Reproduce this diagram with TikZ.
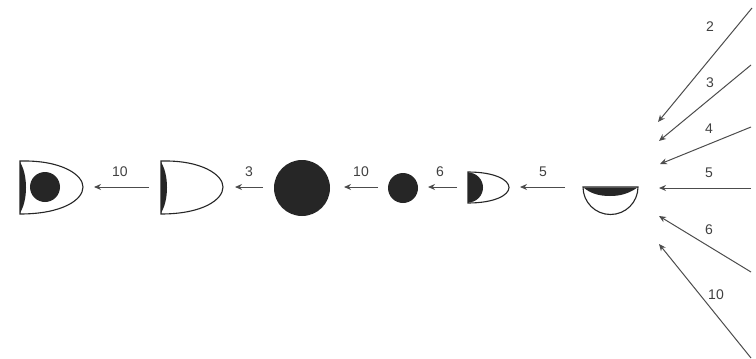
\documentclass[tikz,border=0pt]{standalone}
\usepackage{fontspec}
\setmainfont{Liberation Sans}
\usetikzlibrary{arrows.meta}
\begin{document}
\begin{tikzpicture}[x=1pt,y=-1pt,
  conn/.style={draw=black!70,line width=1pt,-{Stealth[length=7pt,width=6pt]}},
  lbl/.style={font=\fontsize{14}{14}\selectfont,text=black!75,inner sep=0pt},
  outl/.style={draw=black!85,line width=1.1pt,fill=white},
  dark/.style={fill=black!85,draw=none}]
\useasboundingbox (0,0) rectangle (756,359);
% ---- shape 1: D with nucleus
\draw[outl] (20,161) .. controls (62,160) and (83,175) .. (83,187) .. controls (83,200) and (62,214) .. (20,214) -- cycle;
\fill[dark] (20,162) .. controls (28,175) and (28,200) .. (20,213) -- cycle;
\fill[dark] (45,187) circle[radius=15];
% ---- shape 2: D
\draw[outl] (161,161) .. controls (202,160) and (223,175) .. (223,187) .. controls (223,200) and (202,214) .. (161,214) -- cycle;
\fill[dark] (161,162) .. controls (169,175) and (169,200) .. (161,213) -- cycle;
% ---- big circle
\fill[dark] (302,188) circle[radius=28];
% ---- small circle
\fill[dark] (403,188) circle[radius=15];
% ---- small D with half disc
\draw[outl] (468,172) .. controls (495,172) and (509,180) .. (509,187.5) .. controls (509,195) and (495,203) .. (468,203) -- cycle;
\fill[dark] (468,172.5) arc[start angle=-90,end angle=90,radius=15] -- cycle;
% ---- bowl
\draw[outl] (583,187) -- (638,187) arc[start angle=0,end angle=-180,x radius=27.5,y radius=-27.5] -- cycle;
\fill[dark] (583.5,187.5) -- (637.5,187.5) .. controls (628,194) and (620,196) .. (610,196) .. controls (598,196) and (590,193) .. (583.5,187.5) -- cycle;
% ---- named coordinates for horizontal connectors
\coordinate (h5t) at (565,187); \coordinate (h5h) at (520,187);
\coordinate (h6t) at (457,187); \coordinate (h6h) at (428,187);
\coordinate (h10t) at (378,187); \coordinate (h10h) at (344,187);
\coordinate (h3t) at (263,187); \coordinate (h3h) at (235,187);
\coordinate (h1t) at (149,187); \coordinate (h1h) at (94,187);
\draw[conn] (h5t) -- (h5h);
\draw[conn] (h6t) -- (h6h);
\draw[conn] (h10t) -- (h10h);
\draw[conn] (h3t) -- (h3h);
\draw[conn] (h1t) -- (h1h);
\node[lbl] (l5) at (543,172) {5};
\node[lbl] (l6) at (440,172) {6};
\node[lbl] (l10) at (361,172) {10};
\node[lbl] (l3) at (249,172) {3};
\node[lbl] (l10b) at (120,172) {10};
% ---- incoming rays
\coordinate (r2t) at (752,8);   \coordinate (r2h) at (658,122);
\coordinate (r3t) at (751,65);  \coordinate (r3h) at (659,141);
\coordinate (r4t) at (751,127); \coordinate (r4h) at (660,164);
\coordinate (r5t) at (751,188); \coordinate (r5h) at (659,188);
\coordinate (r6t) at (751,272); \coordinate (r6h) at (659,216);
\coordinate (r10t) at (751,358); \coordinate (r10h) at (659,244);
\draw[conn] (r2t) -- (r2h);
\draw[conn] (r3t) -- (r3h);
\draw[conn] (r4t) -- (r4h);
\draw[conn] (r5t) -- (r5h);
\draw[conn] (r6t) -- (r6h);
\draw[conn] (r10t) -- (r10h);
\node[lbl] (n2) at (710,27) {2};
\node[lbl] (n3) at (710,83) {3};
\node[lbl] (n4) at (709,129) {4};
\node[lbl] (n5) at (709,173) {5};
\node[lbl] (n6) at (709,230) {6};
\node[lbl] (n10) at (716,295) {10};
\end{tikzpicture}
\end{document}
